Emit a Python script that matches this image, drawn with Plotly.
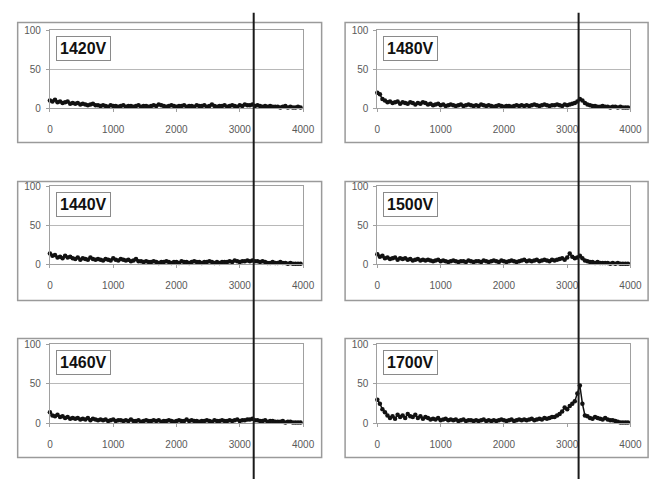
import plotly.graph_objects as go

# sample positions (channel) shared by all panels
X_POS = list(range(0, 4000, 40))

LABELS = ["1420V", "1480V", "1440V", "1500V", "1460V", "1700V"]

S1420 = [10, 9, 11, 8, 9, 7, 8, 9, 6, 7,
         6, 7, 5, 6, 5, 4, 5, 6, 4, 4,
         3, 4, 3, 2, 4, 3, 3, 2, 3, 4,
         2, 3, 3, 2, 3, 4, 2, 3, 3, 2,
         3, 4, 3, 5, 4, 3, 2, 3, 4, 3,
         2, 3, 3, 4, 2, 3, 3, 2, 4, 3,
         3, 4, 2, 3, 5, 3, 2, 3, 3, 4,
         2, 3, 4, 3, 2, 4, 3, 5, 4, 4,
         5, 3, 4, 3, 2, 3, 2, 3, 2, 2,
         2, 1, 2, 3, 1, 2, 1, 1, 2, 1]

S1440 = [14, 11, 12, 9, 10, 8, 11, 9, 10, 8,
         7, 9, 6, 8, 7, 6, 9, 7, 6, 7,
         6, 5, 7, 6, 5, 8, 6, 5, 7, 6,
         5, 6, 4, 5, 7, 4, 4, 3, 4, 3,
         3, 4, 3, 2, 3, 3, 4, 3, 2, 3,
         3, 2, 4, 3, 3, 2, 3, 4, 3, 3,
         2, 3, 3, 4, 3, 2, 3, 2, 3, 3,
         3, 4, 3, 5, 4, 3, 4, 4, 5, 4,
         5, 4, 4, 3, 4, 3, 2, 2, 3, 2,
         2, 3, 2, 2, 1, 2, 1, 1, 1, 1]

S1460 = [14, 10, 9, 11, 8, 9, 7, 8, 6, 7,
         6, 7, 5, 6, 5, 7, 4, 6, 5, 4,
         5, 4, 5, 3, 4, 5, 3, 4, 4, 3,
         4, 3, 5, 3, 3, 4, 2, 3, 4, 3,
         3, 4, 3, 4, 2, 3, 3, 4, 3, 2,
         3, 4, 3, 3, 5, 3, 4, 3, 3, 2,
         3, 3, 4, 3, 2, 4, 3, 3, 4, 3,
         3, 4, 3, 4, 5, 3, 4, 4, 5, 5,
         6, 4, 4, 3, 3, 4, 2, 3, 3, 2,
         2, 2, 3, 1, 2, 2, 1, 1, 1, 1]

S1480 = [20, 18, 12, 10, 8, 9, 7, 8, 9, 6,
         8, 7, 6, 8, 7, 5, 7, 6, 8, 7,
         5, 6, 4, 5, 6, 4, 5, 3, 4, 5,
         4, 3, 4, 5, 3, 4, 5, 4, 3, 4,
         3, 5, 4, 3, 4, 3, 2, 3, 4, 3,
         2, 3, 3, 2, 3, 4, 3, 4, 3, 4,
         3, 4, 5, 4, 3, 4, 5, 4, 3, 4,
         4, 5, 4, 3, 5, 4, 5, 6, 7, 9,
         12, 10, 7, 5, 4, 3, 3, 2, 2, 3,
         2, 2, 1, 2, 2, 1, 2, 1, 1, 1]

S1500 = [13, 10, 11, 8, 9, 7, 8, 9, 6, 8,
         7, 8, 6, 7, 5, 6, 7, 5, 6, 5,
         6, 5, 4, 5, 6, 4, 5, 4, 3, 4,
         5, 4, 3, 4, 4, 3, 5, 4, 3, 4,
         4, 3, 5, 4, 3, 4, 5, 4, 3, 5,
         4, 3, 4, 5, 4, 3, 4, 5, 6, 4,
         5, 4, 5, 6, 4, 5, 6, 5, 4, 6,
         5, 6, 7, 8, 6, 9, 14, 10, 8, 9,
         11, 8, 5, 4, 3, 3, 2, 3, 2, 2,
         2, 2, 1, 2, 1, 2, 1, 1, 1, 1]

S1700 = [30, 25, 18, 14, 10, 7, 9, 6, 11, 8,
         10, 7, 12, 9, 8, 11, 7, 9, 6, 8,
         7, 5, 6, 5, 7, 4, 5, 6, 4, 5,
         4, 5, 3, 4, 5, 3, 4, 4, 3, 4,
         3, 4, 5, 3, 4, 3, 4, 3, 4, 5,
         4, 3, 4, 5, 3, 4, 5, 4, 5, 4,
         5, 6, 4, 5, 6, 5, 7, 6, 7, 8,
         8, 10, 12, 15, 20, 18, 22, 25, 28, 38,
         48, 25, 10, 9, 7, 6, 8, 7, 6, 5,
         7, 5, 4, 4, 3, 2, 1, 1, 1, 1]

SERIES = [S1420, S1480, S1440, S1500, S1460, S1700]
X_TICKS = [0, 1000, 2000, 3000, 4000]
Y_TICKS = [0, 50, 100]
MARKER_X = [3220, 3180]  # vertical reference lines (left column, right column)

W, H = 664, 485


def px(v):
    return v / W


def py(v):
    return 1 - v / H


col_plot = [(48, 307), (383, 642)]
row_plot = [(25, 105), (185, 265), (347, 428)]
col_box = [(15, 326), (350, 660)]
row_box = [(17, 140), (180, 302), (341, 463)]

fig = go.Figure()
layout = dict(width=W, height=H, margin=dict(l=0, r=0, t=0, b=0),
              paper_bgcolor="white", plot_bgcolor="white", showlegend=False,
              font=dict(family="Liberation Sans", size=10, color="#595959"))
shapes = []
annotations = []

for k, (lab, ys) in enumerate(zip(LABELS, SERIES)):
    r, c = divmod(k, 2)
    n = k + 1
    xa = "xaxis" if n == 1 else f"xaxis{n}"
    ya = "yaxis" if n == 1 else f"yaxis{n}"
    xr = "x" if n == 1 else f"x{n}"
    yr = "y" if n == 1 else f"y{n}"
    x0, x1 = col_plot[c]
    y0, y1 = row_plot[r]
    bx0, bx1 = col_box[c]
    by0, by1 = row_box[r]
    shapes.append(dict(type="rect", xref="paper", yref="paper", layer="below",
                       x0=px(bx0), x1=px(bx1), y0=py(by1), y1=py(by0),
                       line=dict(color="#9a9a9a", width=1.5), fillcolor="white"))
    layout[xa] = dict(domain=[px(x0), px(x1)], anchor=yr, range=[0, 4000],
                      tickvals=X_TICKS, showgrid=False, showline=True,
                      linecolor="#a0a0a0", linewidth=1, mirror=True,
                      ticks="outside", ticklen=3, tickcolor="#a0a0a0",
                      ticklabelstandoff=9,
                      zeroline=False, fixedrange=True)
    layout[ya] = dict(domain=[py(y1), py(y0)], anchor=xr, range=[0, 100],
                      tickvals=Y_TICKS, showgrid=True, gridcolor="#b8b8b8",
                      showline=True, linecolor="#a0a0a0", linewidth=1, mirror=True,
                      ticks="outside", ticklen=3, tickcolor="#a0a0a0",
                      ticklabelstandoff=3,
                      zeroline=False, fixedrange=True)
    fig.add_trace(go.Scatter(x=X_POS, y=ys, xaxis=xr, yaxis=yr,
                             mode="lines+markers", cliponaxis=False,
                             line=dict(color="#111", width=1.5),
                             marker=dict(color="#111", size=4.5)))
    annotations.append(dict(xref="paper", yref="paper",
                            x=px(x0 + 6), y=py(y0 + 6),
                            xanchor="left", yanchor="top", showarrow=False,
                            text=f"<b>{lab}</b>",
                            font=dict(family="Liberation Sans", size=16, color="#111"),
                            bgcolor="white", bordercolor="#8a8a8a", borderwidth=1,
                            borderpad=3))

# vertical reference lines through both columns
for c, xv in enumerate(MARKER_X):
    x0, x1 = col_plot[c]
    pxv = x0 + (x1 - x0) * xv / 4000
    shapes.append(dict(type="line", xref="paper", yref="paper", layer="above",
                       x0=px(pxv), x1=px(pxv), y0=0, y1=py(7),
                       line=dict(color="#1a1a1a", width=2)))

layout["shapes"] = shapes
layout["annotations"] = annotations
fig.update_layout(**layout)
fig.write_html("out.html", config={"displayModeBar": False, "staticPlot": True},
               post_script="document.body.style.margin='0';"
                           "document.body.style.overflow='hidden';")
